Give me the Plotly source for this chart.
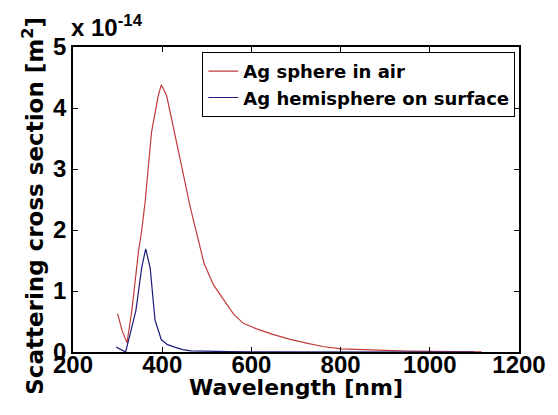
import plotly.graph_objects as go

# Data (cross section in units of 1e-14 m^2)
sphere_wl = [300, 310, 321, 332, 347, 354, 362, 376, 391, 398, 410, 428, 446, 462, 479,
             494, 515, 538, 560, 582, 615, 648, 685, 721, 760, 802, 850, 900, 950, 1000, 1050, 1116]
sphere_cs = [0.63, 0.35, 0.15, 0.68, 1.66, 1.99, 2.48, 3.6, 4.2, 4.38, 4.2, 3.6, 2.96, 2.4, 1.9,
             1.45, 1.1, 0.85, 0.62, 0.47, 0.37, 0.29, 0.21, 0.15, 0.09, 0.05, 0.035, 0.025, 0.015, 0.01, 0.006, 0.002]

hemi_wl = [297, 307, 318, 330, 341, 354, 363, 373, 384, 398, 412, 428, 446, 464, 500, 550,
           600, 700, 800, 900, 1000, 1100]
hemi_cs = [0.08, 0.04, 0.0, 0.35, 0.68, 1.38, 1.69, 1.38, 0.52, 0.2, 0.12, 0.08, 0.04, 0.02,
           0.01, 0.005, 0.003, 0.002, 0.001, 0.001, 0.0, 0.0]

x_ticks = [200, 400, 600, 800, 1000, 1200]
y_ticks = [0, 1, 2, 3, 4, 5]

TICKFONT = "Liberation Sans, Arial, sans-serif"
TITLEFONT = "DejaVu Sans, sans-serif"

fig = go.Figure()
fig.add_trace(go.Scatter(x=sphere_wl, y=sphere_cs, mode="lines", legendgroup="a",
                         line=dict(color="#c23b3b", width=1.2), name="Ag sphere in air"))
fig.add_trace(go.Scatter(x=hemi_wl, y=hemi_cs, mode="lines", legendgroup="b",
                         line=dict(color="#1c1c7a", width=1.2), name="Ag hemisphere on surface"))

fig.update_layout(
    width=550, height=407,
    margin=dict(l=65, r=30, t=39, b=63),
    paper_bgcolor="white", plot_bgcolor="white",
    font=dict(family=TICKFONT, color="black"),
    showlegend=True,
    legend=dict(x=0.29, y=0.984, xanchor="left", yanchor="top",
                bgcolor="white", bordercolor="black", borderwidth=1,
                font=dict(family=TITLEFONT, size=18, color="black", weight="bold"),
                tracegroupgap=2, traceorder="normal"),
    xaxis=dict(range=[200, 1200], tickvals=x_ticks, ticktext=[str(t) for t in x_ticks],
               ticks="inside", ticklen=5, tickcolor="black", mirror="ticks",
               showline=True, linecolor="black", linewidth=1.5, showgrid=False, zeroline=False,
               ticklabelstandoff=-10,
               tickfont=dict(family=TICKFONT, size=24, color="black", weight="bold")),
    yaxis=dict(range=[0, 5], tickvals=y_ticks, ticktext=[str(t) for t in y_ticks],
               ticks="inside", ticklen=5, tickcolor="black", mirror="ticks",
               showline=True, linecolor="black", linewidth=1.5, showgrid=False, zeroline=False,
               tickfont=dict(family=TICKFONT, size=24, color="black", weight="bold")),
)

fig.add_annotation(text="<b>Wavelength [nm]</b>", xref="paper", yref="paper",
                   x=0.5, y=-0.118, xanchor="center", yanchor="middle",
                   showarrow=False, font=dict(family=TITLEFONT, size=22, color="black"))
fig.add_annotation(text="<b>Scattering cross section [m<sup>2</sup>]</b>", textangle=-90,
                   xref="paper", yref="paper", x=-0.09, y=0.479, xanchor="center", yanchor="middle",
                   showarrow=False, font=dict(family=TITLEFONT, size=23, color="black"))
fig.add_annotation(text="<b>x 10<sup>-14</sup></b>", xref="paper", yref="paper",
                   x=0.0, y=1.0, xanchor="left", yanchor="bottom", yshift=4, xshift=-4,
                   showarrow=False, font=dict(family=TICKFONT, size=24, color="black"))

fig.write_html("out.html")
